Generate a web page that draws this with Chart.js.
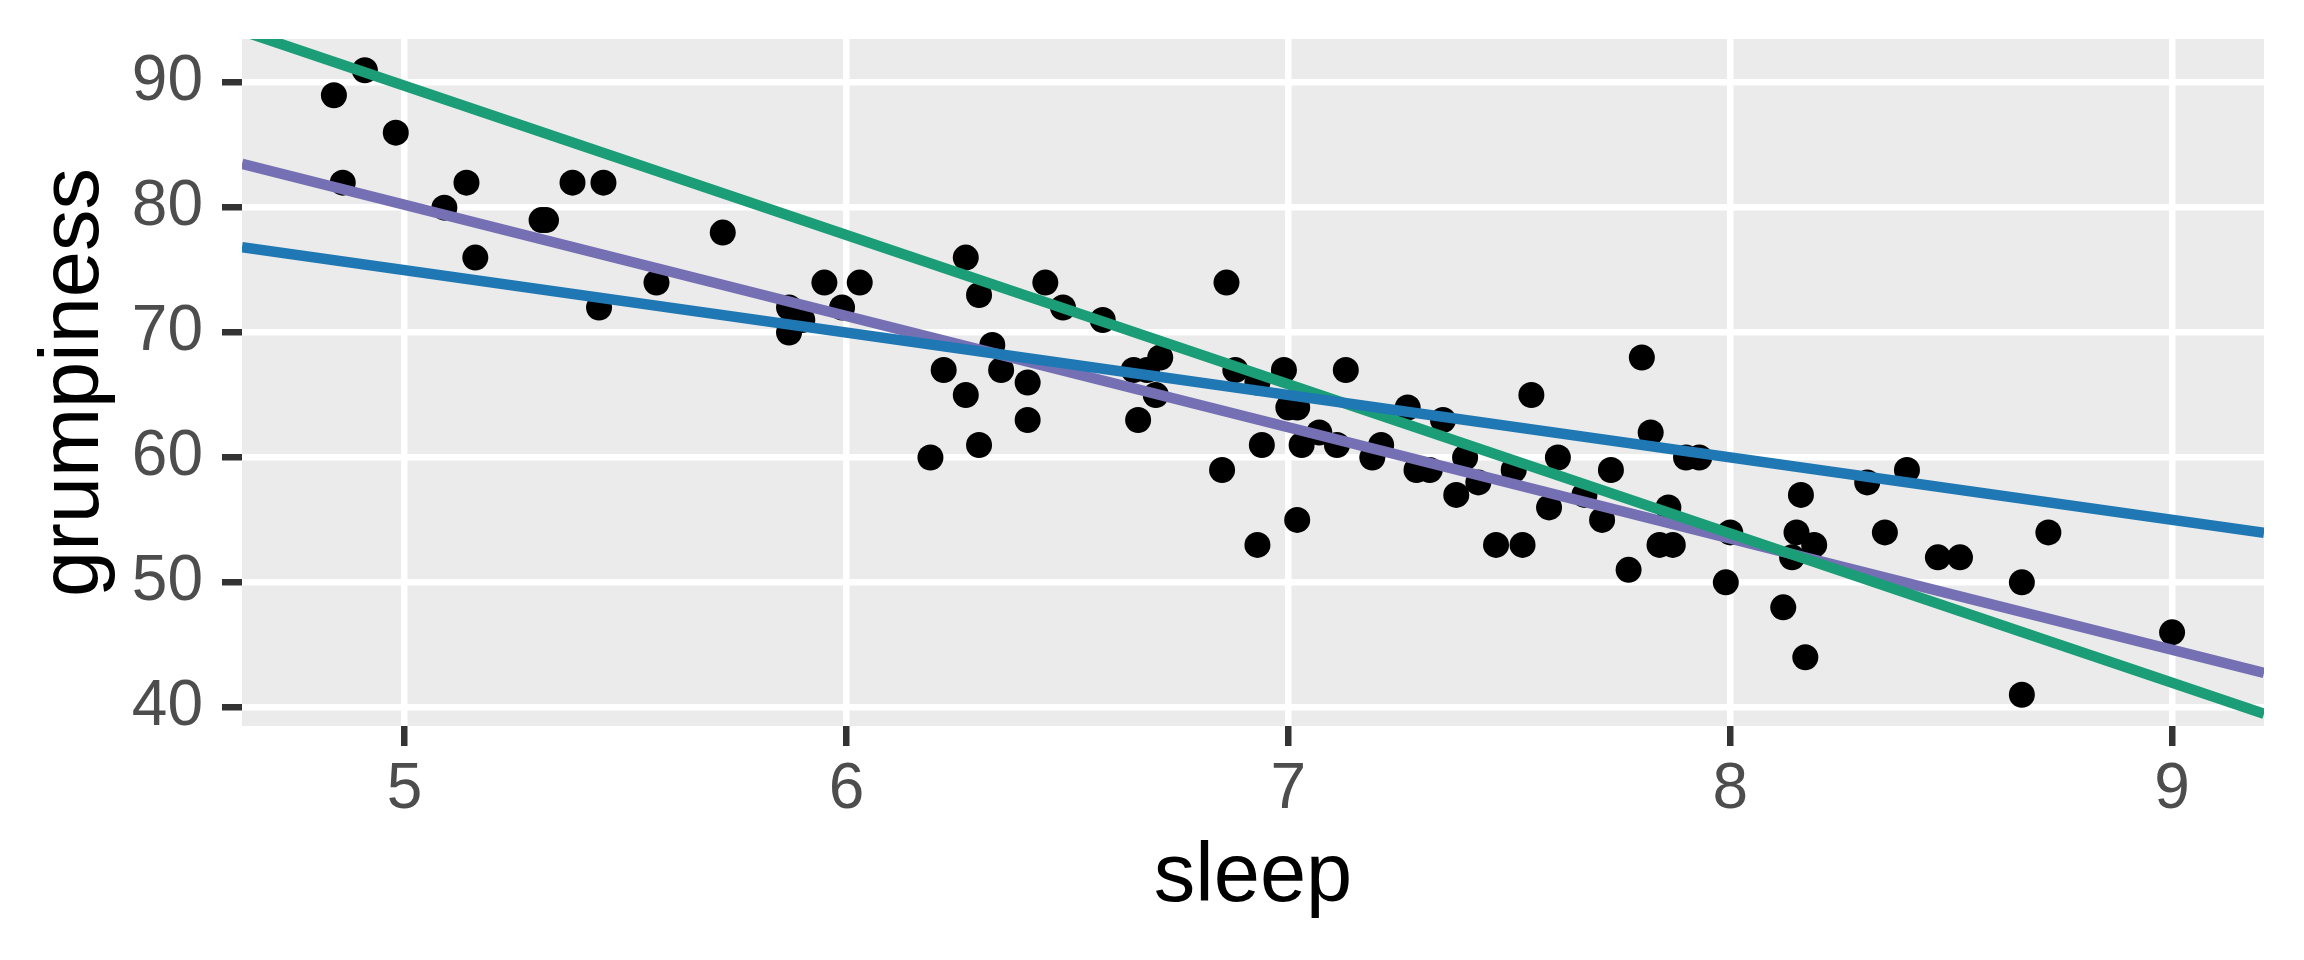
<!DOCTYPE html>
<html>
<head>
<meta charset="utf-8">
<title>sleep vs grumpiness</title>
<script src="https://cdn.jsdelivr.net/npm/chart.js@4"></script>
<style>
  body { margin: 0; background: #ffffff; }
  #wrap { width: 2304px; height: 960px; }
</style>
</head>
<body>
<div id="wrap"><canvas id="plot" width="2304" height="960"></canvas></div>
<script>
const sleep = [
  4.91, 4.84, 4.98, 4.86, 5.09, 5.14, 5.31, 5.32, 5.16, 5.38,
  5.45, 5.57, 5.44, 5.72, 5.87, 5.90, 5.87, 5.95, 6.03, 5.99,
  6.27, 6.30, 6.45, 6.49, 6.58, 6.33, 6.22, 6.35, 6.41, 6.27,
  6.41, 6.30, 6.19, 6.86, 6.65, 6.68, 6.71, 6.70, 6.66, 6.88,
  6.93, 6.99, 7.00, 7.02, 7.07, 7.03, 7.11, 7.13, 6.94, 6.85,
  7.02, 6.93, 7.21, 7.19, 7.29, 7.32, 7.27, 7.35, 7.40, 7.43,
  7.38, 7.51, 7.55, 7.47, 7.53, 7.59, 7.61, 7.80, 7.82, 7.90,
  7.93, 7.73, 7.67, 7.71, 7.86, 7.84, 7.87, 7.77, 8.00, 7.99,
  8.16, 8.15, 8.19, 8.14, 8.12, 8.17, 8.31, 8.40, 8.35, 8.47,
  8.52, 8.72, 8.66, 8.66, 9.00
];
const grumpiness = [
  91, 89, 86, 82, 80, 82, 79, 79, 76, 82,
  82, 74, 72, 78, 72, 71, 70, 74, 74, 72,
  76, 73, 74, 72, 71, 69, 67, 67, 66, 65,
  63, 61, 60, 74, 67, 67, 68, 65, 63, 67,
  66, 67, 64, 64, 62, 61, 61, 67, 61, 59,
  55, 53, 61, 60, 59, 59, 64, 63, 60, 58,
  57, 59, 65, 53, 53, 56, 60, 68, 62, 60,
  60, 59, 57, 55, 56, 53, 53, 51, 54, 50,
  57, 54, 53, 52, 48, 44, 58, 59, 54, 52,
  52, 54, 50, 41, 46
];

// three candidate lines, values at the left and right edges of the panel
const lineX = [4.632, 9.208];
const blueLine = [76.84, 53.96];
const purpleLine = [83.5, 42.75];
const greenLine = [94.15, 39.47];

const xTicks = [5, 6, 7, 8, 9];
const yTicks = [40, 50, 60, 70, 80, 90];

const toPoints = (xs, ys) => xs.map((x, i) => ({ x: x, y: ys[i] }));

// grey panel behind everything, like ggplot's theme_grey
const panelBg = {
  id: 'panelBg',
  beforeDraw(chart) {
    const a = chart.chartArea;
    const ctx = chart.ctx;
    ctx.save();
    ctx.fillStyle = '#EBEBEB';
    ctx.fillRect(a.left, a.top, a.right - a.left, a.bottom - a.top);
    ctx.restore();
  }
};

const lineSet = (ys, colour, order) => ({
  type: 'line',
  data: toPoints(lineX, ys),
  borderColor: colour,
  borderWidth: 10.5,
  pointRadius: 0,
  fill: false,
  clip: 0,
  order: order
});

// keep the axes from pushing the panel around
const noPad = scale => {
  scale.paddingTop = 0;
  scale.paddingBottom = 0;
  scale.paddingLeft = 0;
  scale.paddingRight = 0;
};

const tickFont = { family: 'Liberation Sans, Arial, sans-serif', size: 64 };
const titleFont = { family: 'Liberation Sans, Arial, sans-serif', size: 83, lineHeight: 1 };

new Chart(document.getElementById('plot'), {
  type: 'scatter',
  data: {
    datasets: [
      lineSet(blueLine, '#1F78B4', 1),
      lineSet(greenLine, '#1B9E77', 2),
      lineSet(purpleLine, '#7570B3', 3),
      {
        type: 'scatter',
        data: toPoints(sleep, grumpiness),
        backgroundColor: '#000000',
        borderWidth: 0,
        pointRadius: 13,
        order: 4
      }
    ]
  },
  options: {
    responsive: false,
    devicePixelRatio: 1,
    animation: false,
    layout: { padding: { top: 39, right: 40, left: 0, bottom: 0 } },
    plugins: {
      legend: { display: false },
      tooltip: { enabled: false }
    },
    scales: {
      x: {
        type: 'linear',
        min: 4.632,
        max: 9.208,
        afterBuildTicks: scale => { scale.ticks = xTicks.map(v => ({ value: v })); },
        afterFit: scale => { scale.height = 234; noPad(scale); },
        ticks: { color: '#4D4D4D', font: tickFont, padding: 6, maxRotation: 0 },
        grid: { color: '#FFFFFF', lineWidth: 6.5, tickColor: '#333333', tickWidth: 6.5, tickLength: 20 },
        border: { display: false },
        title: { display: true, text: 'sleep', color: '#000000', font: titleFont, padding: { top: 0, bottom: 40 } }
      },
      y: {
        type: 'linear',
        min: 38.5,
        max: 93.5,
        afterBuildTicks: scale => { scale.ticks = yTicks.map(v => ({ value: v })); },
        afterFit: scale => { scale.width = 242; noPad(scale); },
        ticks: { color: '#4D4D4D', font: tickFont, padding: 19 },
        grid: { color: '#FFFFFF', lineWidth: 6.5, tickColor: '#333333', tickWidth: 6.5, tickLength: 20 },
        border: { display: false },
        title: { display: true, text: 'grumpiness', color: '#000000', font: titleFont, padding: { top: 34, bottom: 0 } }
      }
    }
  },
  plugins: [panelBg]
});
</script>
</body>
</html>
